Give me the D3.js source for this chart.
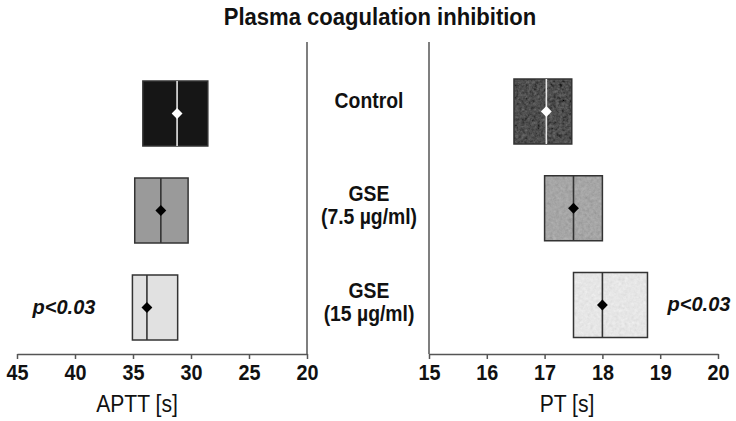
<!DOCTYPE html>
<html>
<head>
<meta charset="utf-8">
<script src="https://cdn.jsdelivr.net/npm/d3@7"></script>
<style>
  body { margin: 0; background: #fff; }
  text { font-family: "Liberation Sans", Arial, sans-serif; fill: #111; }
</style>
</head>
<body>
<div class="chart"></div>
<script>
var groups = ['Control', 'GSE 7.5', 'GSE 15'];
var groupLines = [['Control'], ['GSE', '(7.5 µg/ml)'], ['GSE', '(15 µg/ml)']];

// box = [low, median, high], mean shown as diamond
var apttLow = [28.55, 30.25, 31.15];
var apttMedian = [31.2, 32.6, 33.8];
var apttHigh = [34.15, 34.85, 35.05];
var apttMean = [31.2, 32.6, 33.8];

var ptLow = [16.47, 17.0, 17.5];
var ptMedian = [17.03, 17.5, 18.0];
var ptHigh = [17.47, 18.0, 18.78];
var ptMean = [17.03, 17.5, 18.0];

var apttTicks = [45, 40, 35, 30, 25, 20];
var ptTicks = [15, 16, 17, 18, 19, 20];
var pLabel = 'p<0.03';

var w = 736,
    h = 421;

var svg = d3.select('.chart').append('svg').attr('width', w).attr('height', h);

// soft grain for the PT boxes
var defs = svg.append('defs');
var f = defs.append('filter').attr('id', 'grain')
  .attr('x', 0).attr('y', 0).attr('width', 1).attr('height', 1);
f.append('feTurbulence').attr('type', 'fractalNoise').attr('baseFrequency', 0.32)
  .attr('numOctaves', 3).attr('seed', 4).attr('result', 't');
f.append('feColorMatrix').attr('in', 't').attr('type', 'matrix')
  .attr('values', '0.33 0.33 0.33 0 0  0.33 0.33 0.33 0 0  0.33 0.33 0.33 0 0  0 0 0 0 1')
  .attr('result', 'g');
f.append('feComposite').attr('in', 'SourceGraphic').attr('in2', 'g')
  .attr('operator', 'arithmetic').attr('k1', 0).attr('k2', 1).attr('k3', 0.3).attr('k4', -0.15)
  .attr('result', 'm');
f.append('feComposite').attr('in', 'm').attr('in2', 'SourceAlpha').attr('operator', 'in');

var axisY = 354;
var boxH = 65;

var xL = d3.scaleLinear().domain([45, 20]).range([17, 307]);
var xR = d3.scaleLinear().domain([15, 20]).range([429, 718]);
var yL = d3.scalePoint().domain(groups).range([113.5, 307.5]);
var yR = d3.scalePoint().domain(groups).range([111.5, 305]);

var apttFill = ['#161616', '#9a9a9a', '#e1e1e1'];
var ptFill = ['#4e4e4e', '#a6a6a6', '#e6e6e6'];
var medColor = ['#e6e6e6', '#333', '#333'];
var dotColor = ['#fff', '#000', '#000'];

function panel(x, y, low, med, high, mean, fills, textured) {
  var g = svg.append('g');
  var data = groups.map(function (d, i) {
    return { g: d, i: i, low: low[i], med: med[i], high: high[i], mean: mean[i] };
  });
  var b = g.selectAll('.box').data(data).enter().append('g').attr('class', 'box');

  b.append('rect')
    .attr('x', function (d) { return Math.min(x(d.low), x(d.high)); })
    .attr('y', function (d) { return y(d.g) - boxH / 2; })
    .attr('width', function (d) { return Math.abs(x(d.high) - x(d.low)); })
    .attr('height', boxH)
    .attr('fill', function (d) { return fills[d.i]; })
    .attr('filter', textured ? 'url(#grain)' : null);

  b.append('rect')
    .attr('x', function (d) { return Math.min(x(d.low), x(d.high)); })
    .attr('y', function (d) { return y(d.g) - boxH / 2; })
    .attr('width', function (d) { return Math.abs(x(d.high) - x(d.low)); })
    .attr('height', boxH)
    .attr('fill', 'none')
    .attr('stroke', '#333')
    .attr('stroke-width', 1.5);

  b.append('line')
    .attr('x1', function (d) { return x(d.med); })
    .attr('x2', function (d) { return x(d.med); })
    .attr('y1', function (d) { return y(d.g) - boxH / 2; })
    .attr('y2', function (d) { return y(d.g) + boxH / 2; })
    .attr('stroke', function (d) { return medColor[d.i]; })
    .attr('stroke-width', 1.6);

  b.append('path')
    .attr('d', d3.symbol().type(d3.symbolDiamond2).size(75))
    .attr('transform', function (d) { return 'translate(' + x(d.mean) + ',' + y(d.g) + ')'; })
    .attr('fill', function (d) { return dotColor[d.i]; });
  return g;
}

panel(xL, yL, apttLow, apttMedian, apttHigh, apttMean, apttFill, false);
panel(xR, yR, ptLow, ptMedian, ptHigh, ptMean, ptFill, true);

function axis(x, ticks) {
  var a = svg.append('g').attr('transform', 'translate(0,' + axisY + ')')
    .call(d3.axisBottom(x).tickValues(ticks).tickFormat(d3.format('d'))
      .tickSize(5).tickSizeOuter(0).tickPadding(5));
  a.select('.domain').attr('stroke', '#555').attr('stroke-width', 1.5);
  a.selectAll('.tick line').attr('stroke', '#555').attr('stroke-width', 1.5);
  a.selectAll('.tick text')
    .attr('fill', '#111')
    .attr('transform', 'scale(0.9,1)')
    .style('font-family', '"Liberation Sans", Arial, sans-serif')
    .style('font-size', '22px').style('font-weight', 'bold');
  return a;
}
axis(xL, apttTicks);
axis(xR, ptTicks);

// vertical frame lines
svg.append('line').attr('x1', xL(20)).attr('x2', xL(20)).attr('y1', 42).attr('y2', axisY)
  .attr('stroke', '#555').attr('stroke-width', 1.5);
svg.append('line').attr('x1', xR(15)).attr('x2', xR(15)).attr('y1', 42).attr('y2', axisY)
  .attr('stroke', '#555').attr('stroke-width', 1.5);

// title
svg.append('g').attr('transform', 'translate(380,25) scale(0.92,1)')
  .append('text').attr('text-anchor', 'middle')
  .style('font-size', '24px').style('font-weight', 'bold')
  .text('Plasma coagulation inhibition');

// centre group labels
var cx = 369;
var lab = svg.append('g').attr('transform', 'translate(' + cx + ',0) scale(0.88,1)');
groupLines.forEach(function (lines, i) {
  var c = (yL(groups[i]) + yR(groups[i])) / 2;
  var start = lines.length === 1 ? c - 4 : c - 8;
  lines.forEach(function (t, j) {
    lab.append('text').attr('x', 0).attr('y', start + j * 23)
      .attr('text-anchor', 'middle')
      .style('font-size', '22px').style('font-weight', 'bold')
      .text(t);
  });
});

// axis titles
svg.append('g').attr('transform', 'translate(137,412) scale(0.88,1)')
  .append('text').attr('text-anchor', 'middle').style('font-size', '24px').text('APTT [s]');
svg.append('g').attr('transform', 'translate(567,412) scale(0.88,1)')
  .append('text').attr('text-anchor', 'middle').style('font-size', '24px').text('PT [s]');

// significance labels
svg.append('text').attr('x', 64).attr('y', yL(groups[2]) + 6).attr('text-anchor', 'middle')
  .style('font-size', '20px').style('font-weight', 'bold').style('font-style', 'italic')
  .text(pLabel);
svg.append('text').attr('x', 699).attr('y', yR(groups[2]) + 6).attr('text-anchor', 'middle')
  .style('font-size', '20px').style('font-weight', 'bold').style('font-style', 'italic')
  .text(pLabel);
</script>
</body>
</html>
